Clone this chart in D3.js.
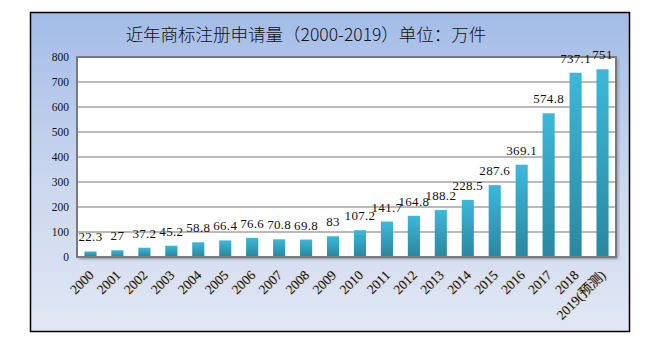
<!DOCTYPE html>
<html>
<head>
<meta charset="utf-8">
<script src="https://cdn.jsdelivr.net/npm/d3@7"></script>
<style>
  body { margin: 0; background: #fff; }
  svg text { font-family: "Liberation Serif", "DejaVu Serif", serif; }
</style>
</head>
<body>
<div id="chart"></div>
<script>
// yearly trademark applications, unit: 10k
const years = ["2000","2001","2002","2003","2004","2005","2006","2007","2008","2009",
               "2010","2011","2012","2013","2014","2015","2016","2017","2018","2019(预测)"];
const values = [22.3,27,37.2,45.2,58.8,66.4,76.6,70.8,69.8,83,
                107.2,141.7,164.8,188.2,228.5,287.6,369.1,574.8,737.1,751];
const yTicks = [0,100,200,300,400,500,600,700,800];
const title = "近年商标注册申请量（2000-2019）单位：万件";

const w = 655, h = 348;
const plot = {left: 77, top: 57, right: 616, bottom: 257};

const svg = d3.select("#chart").append("svg")
    .attr("width", w)
    .attr("height", h);

const defs = svg.append("defs");

// pale blue background of the chart box
const bg = defs.append("linearGradient").attr("id", "bg")
    .attr("x1", 0).attr("y1", 0).attr("x2", 0).attr("y2", 1);
bg.append("stop").attr("offset", "0%").attr("stop-color", "#a3bce7");
bg.append("stop").attr("offset", "55%").attr("stop-color", "#ccd8ef");
bg.append("stop").attr("offset", "100%").attr("stop-color", "#e1e7f4");

// bars go from light cyan on top to darker teal at the bottom
const barFill = defs.append("linearGradient").attr("id", "barFill")
    .attr("x1", 0).attr("y1", 0).attr("x2", 0).attr("y2", 1);
barFill.append("stop").attr("offset", "0%").attr("stop-color", "#3cb8db");
barFill.append("stop").attr("offset", "100%").attr("stop-color", "#2a88a0");

const soft = defs.append("filter").attr("id", "soft")
    .attr("x", "-5%").attr("y", "-5%").attr("width", "110%").attr("height", "110%");
soft.append("feGaussianBlur").attr("stdDeviation", 1.5);

svg.append("rect")
    .attr("x", 30.5).attr("y", 12.5)
    .attr("width", 599).attr("height", 319)
    .attr("fill", "url(#bg)")
    .attr("stroke", "#000")
    .attr("stroke-width", 1.5);

svg.append("text")
    .attr("x", 306)
    .attr("y", 41)
    .attr("text-anchor", "middle")
    .style("font-family", "'Noto Sans CJK SC', sans-serif")
    .style("font-size", "17.5px")
    .style("font-weight", 300)
    .attr("fill", "#111")
    .text(title);

const x = d3.scaleBand()
    .domain(years)
    .range([plot.left, plot.right])
    .paddingInner(0.55)
    .paddingOuter(0.275);

const y = d3.scaleLinear()
    .domain([0, 800])
    .range([plot.bottom, plot.top]);

// plot area with a soft shadow on the right and bottom
svg.append("rect")
    .attr("x", plot.left + 2).attr("y", plot.top + 2)
    .attr("width", plot.right - plot.left).attr("height", plot.bottom - plot.top)
    .attr("fill", "#8a8f99")
    .attr("filter", "url(#soft)");
svg.append("rect")
    .attr("x", plot.left).attr("y", plot.top)
    .attr("width", plot.right - plot.left).attr("height", plot.bottom - plot.top)
    .attr("fill", "#fff");

// gridlines
svg.append("g")
    .selectAll("line")
    .data(yTicks.slice(1, -1))
    .enter()
    .append("line")
    .attr("x1", plot.left).attr("x2", plot.right)
    .attr("y1", d => y(d)).attr("y2", d => y(d))
    .attr("stroke", "#a3a3a3")
    .attr("stroke-width", 1.5);

svg.append("rect")
    .attr("x", plot.left).attr("y", plot.top)
    .attr("width", plot.right - plot.left).attr("height", plot.bottom - plot.top)
    .attr("fill", "none")
    .attr("stroke", "#7a7a7a")
    .attr("stroke-width", 2);

// y axis labels
const yAxis = d3.axisLeft(y)
    .tickValues(yTicks)
    .tickSize(0)
    .tickPadding(8);
svg.append("g")
    .attr("transform", "translate(" + plot.left + ",0)")
    .call(yAxis)
    .call(g => g.select(".domain").remove())
    .selectAll("text")
    .style("font-family", "'Liberation Serif', serif")
    .style("font-size", "11.5px")
    .attr("fill", "#111");

// bars
svg.append("g")
    .selectAll("rect")
    .data(values)
    .enter()
    .append("rect")
    .attr("x", (d, i) => x(years[i]))
    .attr("y", d => y(d))
    .attr("width", x.bandwidth())
    .attr("height", d => plot.bottom - 1 - y(d))
    .attr("fill", "url(#barFill)");

// value labels above bars
svg.append("g")
    .selectAll("text")
    .data(values)
    .enter()
    .append("text")
    .attr("x", (d, i) => x(years[i]) + x.bandwidth() / 2)
    .attr("y", d => y(d) - 10)
    .attr("text-anchor", "middle")
    .style("font-size", "13px")
    .style("letter-spacing", "0.3px")
    .attr("fill", "#111")
    .text(d => d);

// rotated year labels
const xAxis = d3.axisBottom(x).tickSize(0).tickPadding(0);
svg.append("g")
    .attr("transform", "translate(0," + plot.bottom + ")")
    .call(xAxis)
    .call(g => g.select(".domain").remove())
    .selectAll("text")
    .attr("text-anchor", "end")
    .attr("y", 0)
    .attr("dy", 0)
    .attr("transform", "translate(4,19) rotate(-45)")
    .style("font-family", "'Liberation Serif', 'Noto Sans CJK SC', serif")
    .style("font-size", "13.5px")
    .attr("fill", "#111")
    .style("text-shadow", "0.5px 0.5px 1px rgba(200,150,60,0.6)");
</script>
</body>
</html>
